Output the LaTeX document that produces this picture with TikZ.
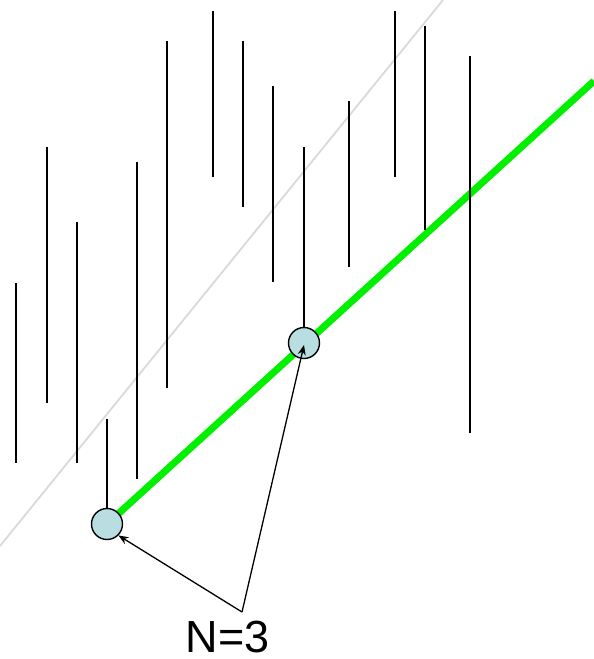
\documentclass[tikz,border=0pt]{standalone}
\usepackage{fontspec}
\setmainfont{Liberation Sans}
\usetikzlibrary{arrows.meta}
\definecolor{dotfill}{RGB}{185,222,226}
\definecolor{fitgreen}{RGB}{0,240,0}
\tikzset{
  bar/.style={draw=black, line width=1.8pt},
  fitline/.style={draw=fitgreen, line width=7pt},
  refline/.style={draw=black!15, line width=1.8pt},
  dot/.style={circle, draw=black, line width=1.4pt, fill=dotfill, minimum size=31pt, inner sep=0pt},
  pointer/.style={draw=black, line width=1.3pt, -{Stealth[length=10pt,width=8pt]}},
}
\begin{document}
\begin{tikzpicture}[x=1pt,y=-1pt]
\useasboundingbox (0,0) rectangle (594,659);
% reference (identity) line
\coordinate (g1) at (0,546);
\coordinate (g2) at (443,0);
\draw[refline] (g1) -- (g2);
% green fit line
\coordinate (fa) at (107,524);
\coordinate (fb) at (594,81);
\draw[fitline] (fa) -- (fb);
% vertical bars
\foreach \x/\a/\b in {16/283/463, 47/147/403, 77/222/463, 107/419/524, 137/162/479, 167/41/388, 213/11/177, 243/41/207, 273/86/282, 304/147/343, 349/101/267, 395/11/177, 425/26/230, 470/56/433}
  \draw[bar] (\x,\a) -- (\x,\b);
% selected points
\node[dot] (p1) at (107,524) {};
\node[dot] (p2) at (304,343) {};
% label
\node[anchor=base, font=\fontsize{45}{50}\selectfont, inner sep=0pt] (lab) at (227.5,652) {N=3};
\coordinate (fork) at (242,612);
\draw[pointer] (fork) -- (p1.-45);
\draw[pointer] (fork) -- ([yshift=-2pt]p2.center);
\end{tikzpicture}
\end{document}
